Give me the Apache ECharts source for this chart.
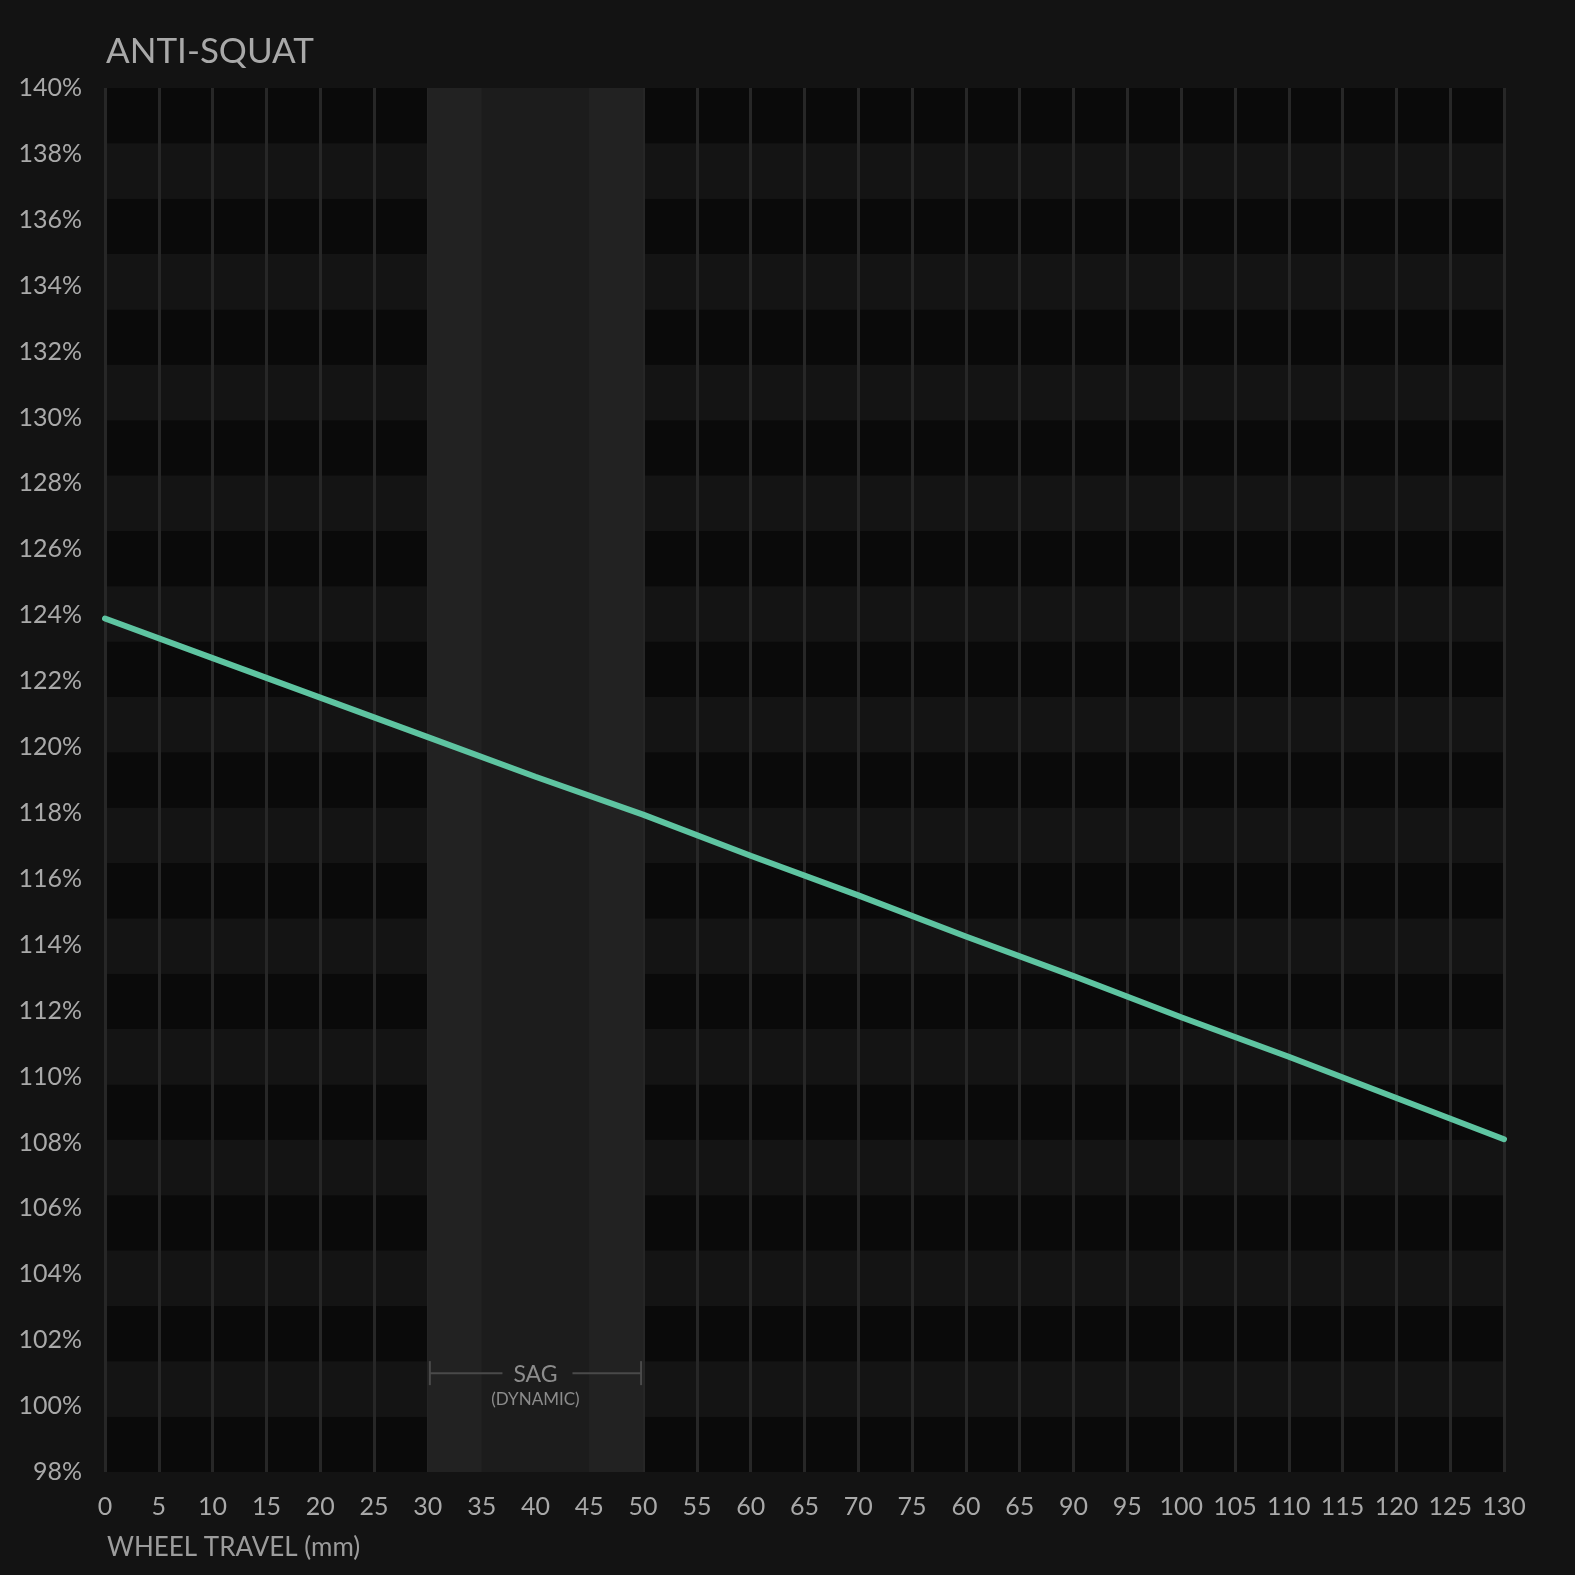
<!DOCTYPE html>
<html>
<head>
<meta charset="utf-8">
<script src="https://cdn.jsdelivr.net/npm/echarts@6/dist/echarts.min.js"></script>
<style>
html,body{margin:0;padding:0;background:#131313;}
#chart{width:1575px;height:1575px;}
</style>
</head>
<body>
<div id="chart"></div>
<script>
// Wheel travel (mm) and anti-squat (%)
var travel = [0, 10, 20, 30, 40, 50, 60, 70, 80, 90, 100, 110, 120, 130];
var antiSquat = [123.9, 122.7, 121.5, 120.3, 119.1, 117.95, 116.7, 115.5, 114.25, 113.05, 111.8, 110.6, 109.35, 108.1];
// Tick labels as printed on the reference (including its repeated 60/65)
var xTickLabels = ['0','5','10','15','20','25','30','35','40','45','50','55','60','65','70','75','60','65','90','95','100','105','110','115','120','125','130'];
// Sag zone (mm)
var sagStart = 30, sagCoreStart = 35, sagCoreEnd = 45, sagEnd = 50;
var sagLabelLevel = 101;

var FONT = 'Lato';
var chart = echarts.init(document.getElementById('chart'));

var lineData = travel.map(function (t, i) { return [t, antiSquat[i]]; });

chart.setOption({
  backgroundColor: '#131313',
  animation: false,
  title: [
    { text: 'ANTI-SQUAT', left: 101, top: 29,
      textStyle: { color: '#a9a9a9', fontSize: 35, fontWeight: 'normal', fontFamily: FONT } },
    { text: 'WHEEL TRAVEL (mm)', left: 102, top: 1530,
      textStyle: { color: '#9c9c9c', fontSize: 26, fontWeight: 'normal', fontFamily: FONT } }
  ],
  grid: { left: 105, right: 71, top: 88, bottom: 103 },
  xAxis: {
    type: 'value', min: 0, max: 130, interval: 5, z: 1,
    axisLine: { show: false }, axisTick: { show: false },
    axisLabel: {
      color: '#a9a9a9', fontSize: 25, fontFamily: FONT, margin: 22,
      formatter: function (v) { return xTickLabels[Math.round(v / 5)]; }
    },
    splitLine: { show: true, lineStyle: { color: '#272727', width: 3 } }
  },
  yAxis: [
    {
      type: 'value', min: 98, max: 140, interval: 2, z: 1,
      axisLine: { show: false }, axisTick: { show: false },
      axisLabel: { color: '#a9a9a9', fontSize: 25, fontFamily: FONT, margin: 23, padding: [5, 0, 0, 0], formatter: '{value}%' },
      splitLine: { show: false }
    },
    {
      type: 'value', min: 0, max: 25, interval: 1, z: 0, position: 'right',
      axisLine: { show: false }, axisTick: { show: false }, axisLabel: { show: false },
      splitLine: { show: false },
      splitArea: { show: true, areaStyle: { color: ['#0a0a0a', '#141414'] } }
    }
  ],
  series: [
    {
      type: 'line', data: [], z: 2,
      markArea: {
        silent: true,
        data: [
          [{ xAxis: sagStart, yAxis: 'min', itemStyle: { color: '#222222' } }, { xAxis: sagCoreStart, yAxis: 'max' }],
          [{ xAxis: sagCoreStart, yAxis: 'min', itemStyle: { color: '#1c1c1c' } }, { xAxis: sagCoreEnd, yAxis: 'max' }],
          [{ xAxis: sagCoreEnd, yAxis: 'min', itemStyle: { color: '#222222' } }, { xAxis: sagEnd, yAxis: 'max' }]
        ]
      }
    },
    {
      type: 'custom', z: 3, silent: true,
      data: [[sagStart, sagEnd, sagLabelLevel]],
      renderItem: function (params, api) {
        var p0 = api.coord([api.value(0), api.value(2)]);
        var p1 = api.coord([api.value(1), api.value(2)]);
        var x0 = p0[0] + 2, x1 = p1[0] - 2, y = p0[1];
        var cx = (p0[0] + p1[0]) / 2;
        var st = { stroke: '#4a4a4a', lineWidth: 2 };
        return {
          type: 'group',
          children: [
            { type: 'line', shape: { x1: x0, y1: y, x2: cx - 33, y2: y }, style: st },
            { type: 'line', shape: { x1: cx + 37, y1: y, x2: x1, y2: y }, style: st },
            { type: 'line', shape: { x1: x0, y1: y - 12, x2: x0, y2: y + 12 }, style: st },
            { type: 'line', shape: { x1: x1, y1: y - 12, x2: x1, y2: y + 12 }, style: st },
            { type: 'text', style: { x: cx, y: y + 1, text: 'SAG', fill: '#8c8c8c', font: '23px ' + FONT, align: 'center', verticalAlign: 'middle' } },
            { type: 'text', style: { x: cx, y: y + 26, text: '(DYNAMIC)', fill: '#8c8c8c', font: '17px ' + FONT, align: 'center', verticalAlign: 'middle' } }
          ]
        };
      }
    },
    {
      type: 'line', z: 4, data: lineData, symbol: 'none', smooth: false,
      lineStyle: { color: '#5ec4a1', width: 6, cap: 'round' }
    }
  ]
});
</script>
</body>
</html>
